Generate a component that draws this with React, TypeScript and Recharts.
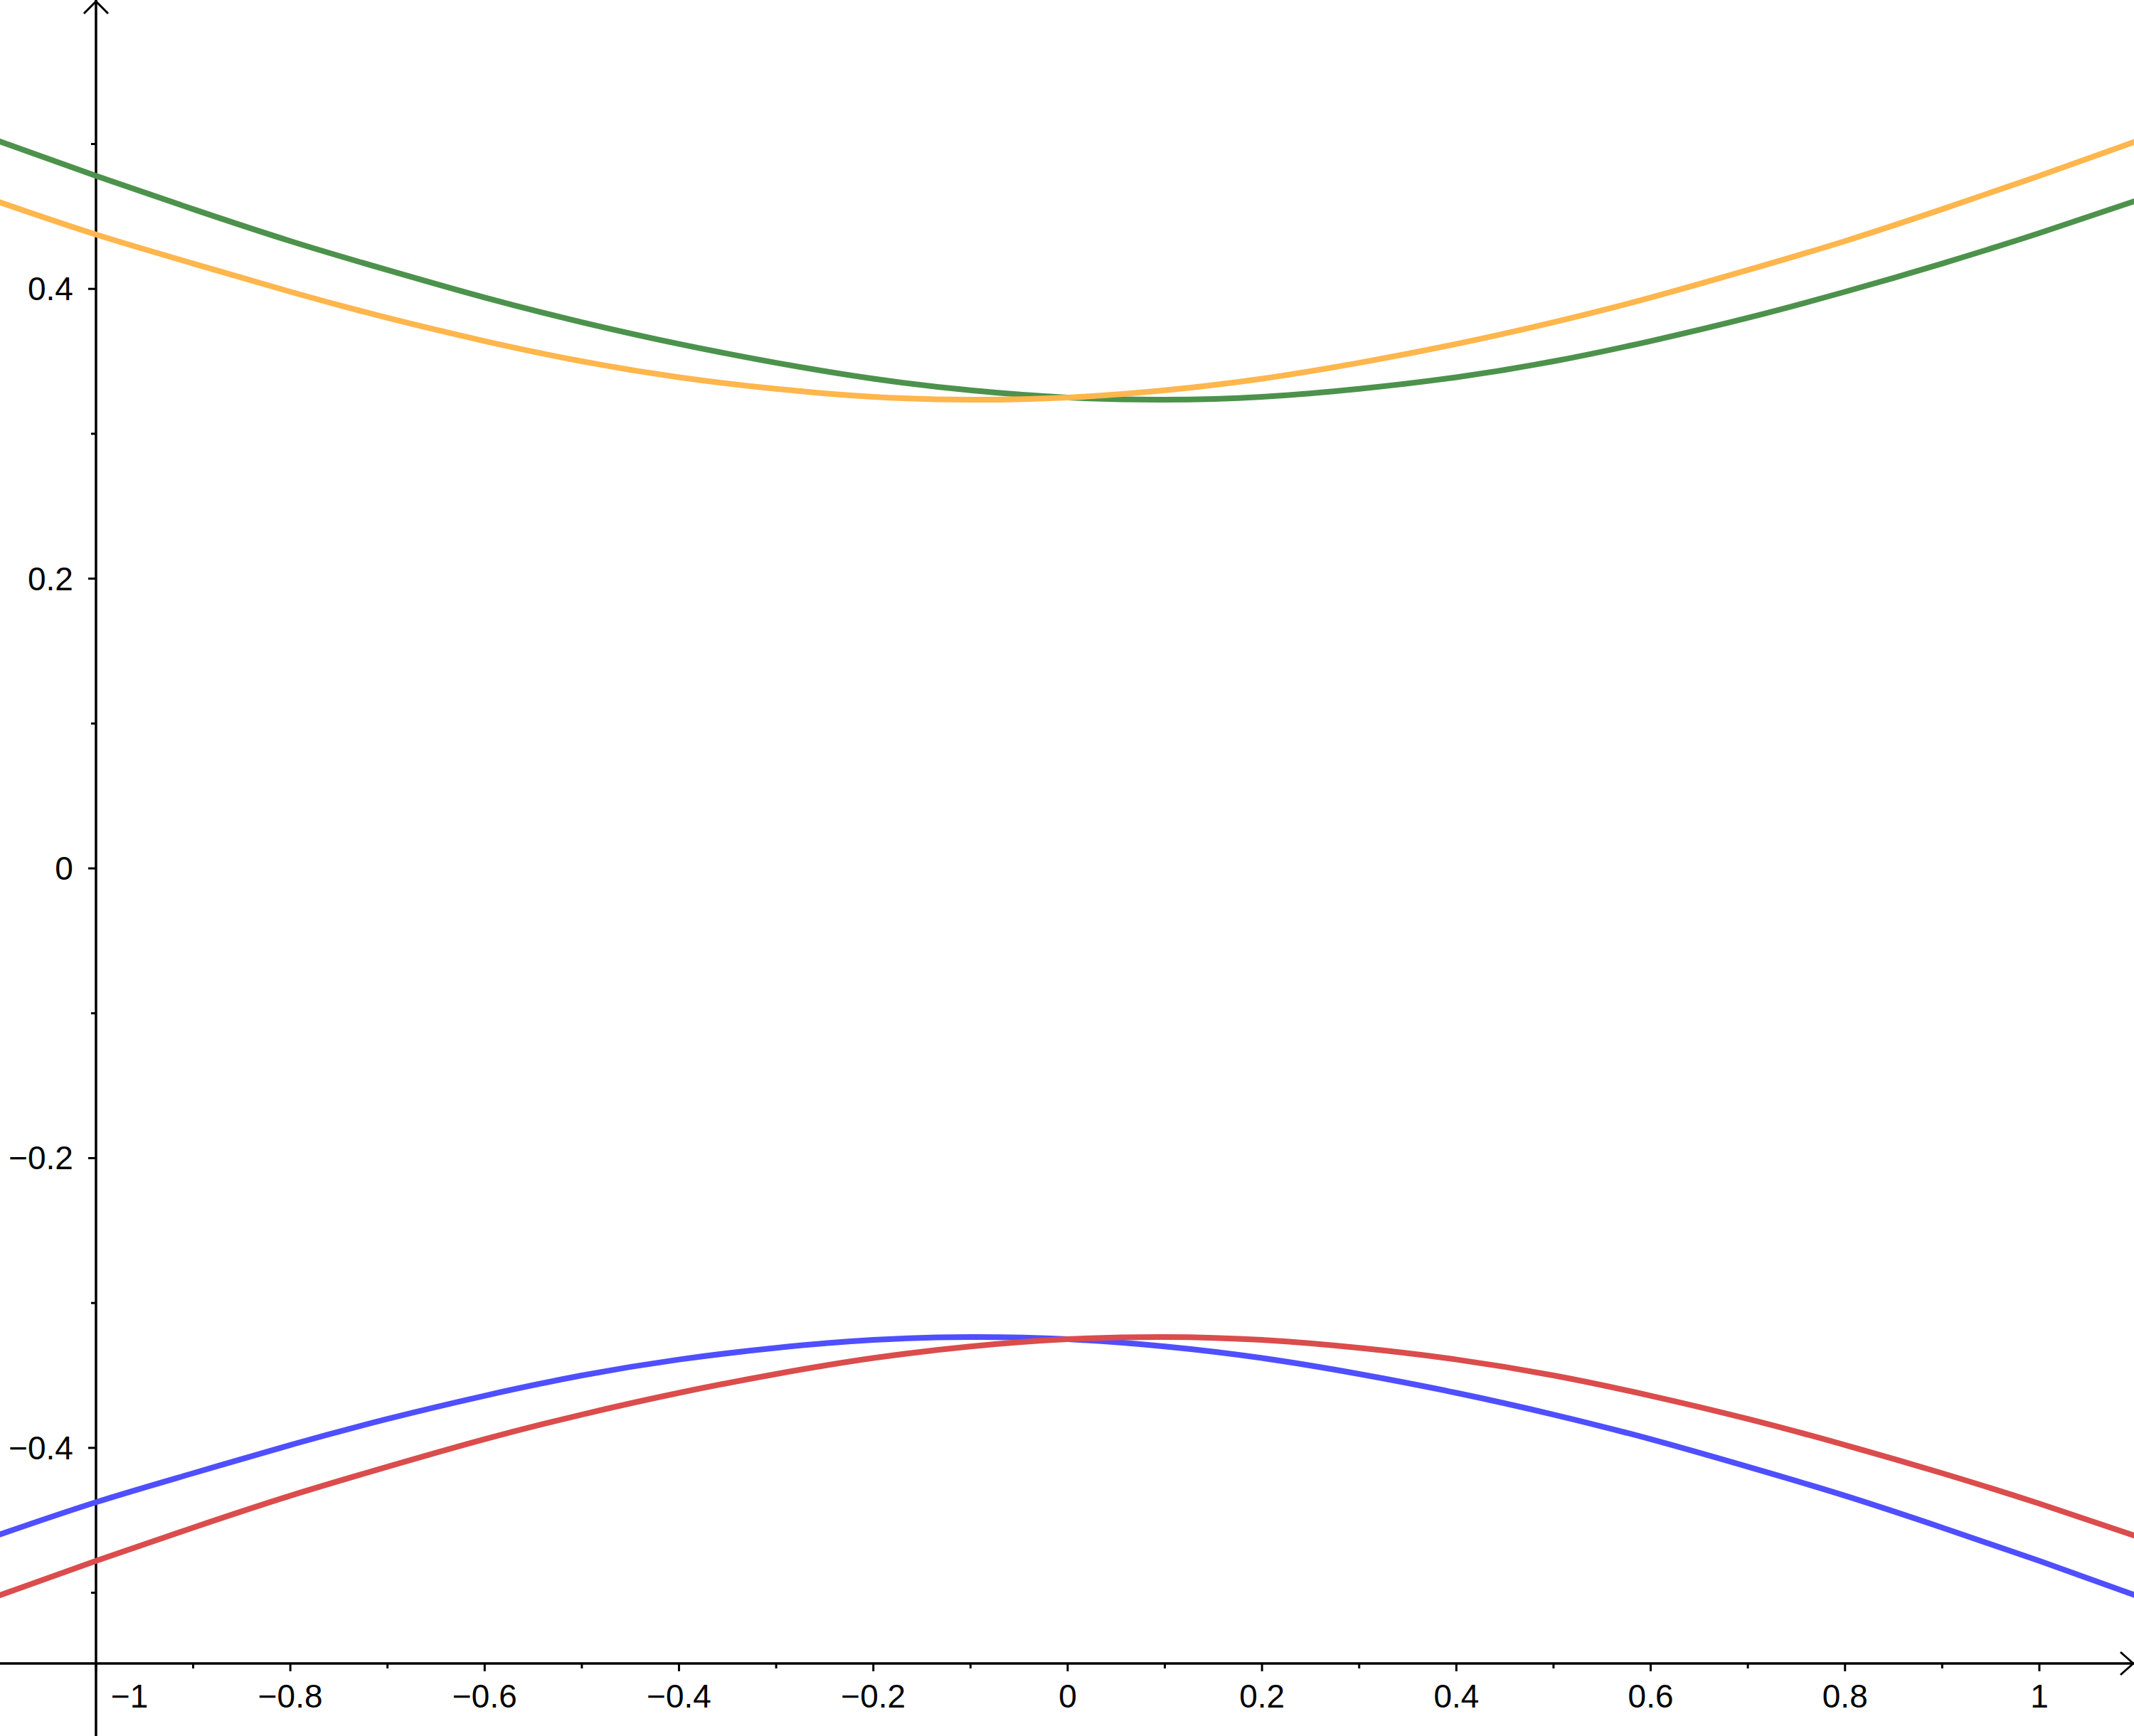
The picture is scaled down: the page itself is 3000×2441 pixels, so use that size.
import React from 'react';
import { LineChart, Line, XAxis, YAxis, ReferenceLine, ReferenceDot } from 'recharts';

// sample positions along x
const xs = [-1.1, -1.0, -0.9, -0.8, -0.7, -0.6, -0.5, -0.4, -0.3, -0.2, -0.1, 0, 0.1, 0.2, 0.3, 0.4, 0.5, 0.6, 0.7, 0.8, 0.9, 1.0, 1.1];

// curves
const greenVals = [0.502, 0.478, 0.455, 0.433, 0.413, 0.394, 0.377, 0.362, 0.349, 0.338, 0.330, 0.325, 0.3235, 0.3255, 0.331, 0.339, 0.350, 0.364, 0.380, 0.398, 0.4175, 0.4385, 0.461];
const orangeVals = [0.460, 0.4375, 0.4175, 0.398, 0.380, 0.364, 0.350, 0.339, 0.331, 0.3255, 0.3235, 0.325, 0.330, 0.338, 0.349, 0.362, 0.377, 0.394, 0.413, 0.433, 0.455, 0.478, 0.502];
const blueVals = [-0.460, -0.4375, -0.4175, -0.398, -0.380, -0.364, -0.350, -0.339, -0.331, -0.3255, -0.3235, -0.325, -0.330, -0.338, -0.349, -0.362, -0.377, -0.394, -0.413, -0.433, -0.455, -0.478, -0.502];
const redVals = [-0.502, -0.478, -0.455, -0.433, -0.413, -0.394, -0.377, -0.362, -0.349, -0.338, -0.330, -0.325, -0.3235, -0.3255, -0.331, -0.339, -0.350, -0.364, -0.380, -0.398, -0.4175, -0.4385, -0.461];

// tick values
const xTicks = [-1, -0.9, -0.8, -0.7, -0.6, -0.5, -0.4, -0.3, -0.2, -0.1, 0, 0.1, 0.2, 0.3, 0.4, 0.5, 0.6, 0.7, 0.8, 0.9, 1];
const yTicks = [-0.5, -0.4, -0.3, -0.2, -0.1, 0, 0.1, 0.2, 0.3, 0.4, 0.5];

const X_MIN = -1.0988;
const X_MAX = 1.0974;
const Y_MIN = -0.5488;
const Y_MAX = 0.5994;
const Y_AXIS_AT = -1;

const W = 3000;
const H = 2441;
const FONT = '"Liberation Sans", Arial, sans-serif';
const FONT_SIZE = 46;

const data = xs.map((x, i) => ({
    x,
    green: greenVals[i],
    orange: orangeVals[i],
    blue: blueVals[i],
    red: redVals[i],
}));

const isMajor = (v: number) => Math.round(v * 10) % 2 === 0;

const fmt = (v: number) => {
    if (Math.abs(v) < 1e-9) return '0';
    const s = String(Math.abs(v));
    return v < 0 ? '\u2212' + s : s;
};

const renderXTick = (props: any) => {
    const { x, y, payload } = props;
    const v = payload.value as number;
    const major = isMajor(v);
    // label of -1 sits right of the y axis
    const shifted = Math.abs(v - Y_AXIS_AT) < 1e-9;
    return (
        <g>
            <line x1={x} x2={x} y1={y} y2={y + (major ? 11 : 7)} stroke="#000" strokeWidth={3} />
            {major && (
                <text
                    x={shifted ? x + 21 : x}
                    y={y + 62}
                    textAnchor={shifted ? 'start' : 'middle'}
                    fontFamily={FONT}
                    fontSize={FONT_SIZE}
                    fill="#000"
                >
                    {fmt(v)}
                </text>
            )}
        </g>
    );
};

const makeYTick = (v: number) => (props: any) => {
    const { cx, cy } = props;
    const major = isMajor(v);
    return (
        <g>
            <line x1={cx - (major ? 11 : 7)} x2={cx} y1={cy} y2={cy} stroke="#000" strokeWidth={3} />
            {major && (
                <text x={cx - 32} y={cy + 16} textAnchor="end" fontFamily={FONT} fontSize={FONT_SIZE} fill="#000">
                    {fmt(v)}
                </text>
            )}
        </g>
    );
};

const rightArrow = (props: any) => {
    const { cx, cy } = props;
    return <path d={`M${cx - 19},${cy - 16} L${cx - 1},${cy} L${cx - 19},${cy + 16}`} fill="none" stroke="#000" strokeWidth={3} />;
};

const upArrow = (props: any) => {
    const { cx, cy } = props;
    return <path d={`M${cx - 17},${cy + 19} L${cx},${cy + 2} L${cx + 17},${cy + 19}`} fill="none" stroke="#000" strokeWidth={3} />;
};

const App: React.FC = () => {
    return (
        <div style={{ position: 'absolute', left: 0, top: 0, width: W, height: H, background: '#fff' }}>
            <LineChart width={W} height={H} data={data} margin={{ top: 0, right: 0, bottom: 0, left: 0 }}>
                <XAxis
                    dataKey="x"
                    type="number"
                    domain={[X_MIN, X_MAX]}
                    allowDataOverflow
                    ticks={xTicks}
                    interval={0}
                    tick={renderXTick}
                    tickLine={false}
                    tickSize={0}
                    tickMargin={0}
                    axisLine={{ stroke: '#000', strokeWidth: 3.5 }}
                    height={H - 2339}
                />
                <YAxis type="number" domain={[Y_MIN, Y_MAX]} allowDataOverflow hide />

                <ReferenceLine
                    segment={[{ x: Y_AXIS_AT, y: Y_MAX }, { x: Y_AXIS_AT, y: -0.6 }]}
                    stroke="#000"
                    strokeWidth={3.5}
                    ifOverflow="visible"
                />
                {yTicks.map((v) => (
                    <ReferenceDot key={v} x={Y_AXIS_AT} y={v} r={1} ifOverflow="visible" shape={makeYTick(v)} />
                ))}
                <ReferenceDot x={X_MAX} y={Y_MIN} r={1} ifOverflow="visible" shape={rightArrow} />
                <ReferenceDot x={Y_AXIS_AT} y={Y_MAX} r={1} ifOverflow="visible" shape={upArrow} />

                <Line dataKey="green" type="natural" stroke="#4c924c" strokeWidth={8} dot={false} isAnimationActive={false} />
                <Line dataKey="orange" type="natural" stroke="#ffb64c" strokeWidth={8} dot={false} isAnimationActive={false} />
                <Line dataKey="blue" type="natural" stroke="#4f4fff" strokeWidth={8} dot={false} isAnimationActive={false} />
                <Line dataKey="red" type="natural" stroke="#db4c4c" strokeWidth={8} dot={false} isAnimationActive={false} />
            </LineChart>
        </div>
    );
};

export default App;
